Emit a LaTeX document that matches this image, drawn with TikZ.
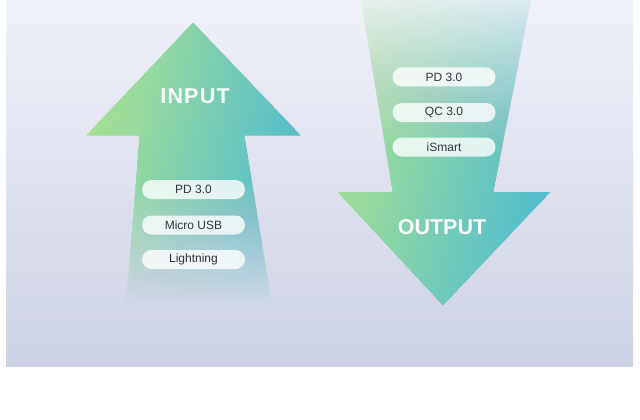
\documentclass[tikz,border=0pt]{standalone}
\usepackage{fontspec}
\setmainfont{Liberation Sans}
\definecolor{bgtop}{RGB}{239,241,248}
\definecolor{bgbot}{RGB}{205,210,228}
\definecolor{agreen}{RGB}{168,226,145}
\definecolor{amid}{RGB}{122,206,178}
\definecolor{ateal}{RGB}{80,188,206}
\definecolor{pilltext}{RGB}{50,52,62}
\begin{document}
\begin{tikzpicture}[x=1pt,y=-1pt,
  pill/.style={rounded corners=9.5pt, fill=white, fill opacity=0.8, text opacity=1,
    minimum width=103pt, minimum height=19pt, inner sep=0pt,
    text=pilltext, font=\fontsize{12}{14}\selectfont},
  bigword/.style={text=white, text opacity=0.95, font=\fontsize{21.5}{24}\selectfont\bfseries, inner sep=0pt},
  arrowfill/.style={left color=agreen, right color=ateal, middle color=amid, shading angle=78},
  upshape/.style={insert path={(193,23) -- (300,135) -- (244,135) -- (272,305) -- (126,305) -- (140,135) -- (87,135) -- cycle}},
  downshape/.style={insert path={(361,0) -- (531,0) -- (493,192) -- (550,192) -- (443,305) -- (338,192) -- (393,192) -- cycle}}]
\useasboundingbox (0,0) rectangle (640,420);
\fill[white] (0,0) rectangle (640,420);
\shade[top color=bgtop, bottom color=bgbot] (6,0) rectangle (633,366);
% up arrow: nested layers, linear fade of the shaft from y=165 to y=305
\foreach \k in {1,...,35}{
  \pgfmathsetmacro{\yb}{165+4*\k}
  \pgfmathsetmacro{\op}{1/\k}
  \begin{scope}
    \clip (0,0) rectangle (640,\yb);
    \shade[arrowfill, opacity=\op, upshape];
  \end{scope}
}
% down arrow: nested layers, fade of the shaft from y=175 up to y=0
\foreach \k in {1,...,35}{
  \pgfmathsetmacro{\ya}{175-5*\k}
  \pgfmathsetmacro{\op}{\k<35 ? 1/\k : 1-0.88*34/35}
  \begin{scope}
    \clip (0,\ya) rectangle (640,320);
    \shade[arrowfill, opacity=\op, downshape];
  \end{scope}
}
\node[bigword] (input) at (195,96.5) {I\kern1.2ptN\kern1.2ptP\kern1.2ptU\kern1.2ptT};
\node[bigword] (output) at (442,227.5) {OUTPUT};
\node[pill] (in1) at (193.5,189.5) {PD 3.0};
\node[pill] (in2) at (193.5,225) {Micro USB};
\node[pill] (in3) at (193.5,259.5) {Lightning};
\node[pill] (out1) at (444,77) {PD 3.0};
\node[pill] (out2) at (444,112.5) {QC 3.0};
\node[pill] (out3) at (444,147) {iSmart};
\end{tikzpicture}
\end{document}
